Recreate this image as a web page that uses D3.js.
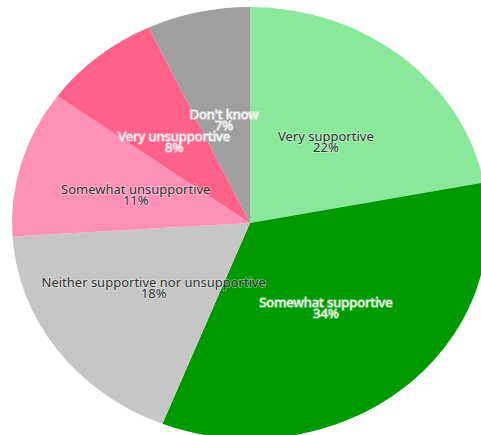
<!DOCTYPE html>
<html>
<head>
<meta charset="utf-8">
<script src="https://cdn.jsdelivr.net/npm/d3@7"></script>
<style>
  html, body { margin: 0; padding: 0; background: #ffffff; overflow: hidden; }
  svg { display: block; }
</style>
</head>
<body>
<svg id="chart" width="481" height="435"></svg>
<script>
// Survey responses, clockwise from 12 o'clock
const categories = [
  "Very supportive",
  "Somewhat supportive",
  "Neither supportive nor unsupportive",
  "Somewhat unsupportive",
  "Very unsupportive",
  "Don't know"
];
const shares = [22, 34, 18, 11, 8, 7];
const sliceColors = ["#8ae89b", "#009a00", "#c6c6c6", "#ff90b8", "#ff6189", "#9f9f9f"];
const labelColors = ["#333333", "#ffffff", "#333333", "#333333", "#ffffff", "#ffffff"];

const width = 481, height = 435;
const cx = 250, cy = 223;
const ry = 216, rx = 238;          // pie is drawn stretched horizontally
const sx = rx / ry;

const svg = d3.select("#chart");

const rows = categories.map((c, i) => ({ name: c, value: shares[i], fill: sliceColors[i], text: labelColors[i] }));

const pie = d3.pie().sort(null).value(d => d.value).startAngle(0).endAngle(2 * Math.PI);
const arcs = pie(rows);
const arc = d3.arc().innerRadius(0).outerRadius(ry);

const slices = svg.append("g")
  .attr("transform", `translate(${cx},${cy}) scale(${sx},1)`);

slices.selectAll("path")
  .data(arcs)
  .join("path")
  .attr("d", arc)
  .attr("fill", d => d.data.fill);

// Labels sit at half the radius along each slice's mid angle
const labels = svg.append("g")
  .attr("font-family", "'Noto Sans', 'Open Sans', sans-serif")
  .attr("font-size", 13)
  .attr("text-anchor", "middle");

const lab = labels.selectAll("text")
  .data(arcs)
  .join("text")
  .attr("transform", d => {
    const [x, y] = arc.centroid(d);
    return `translate(${cx + x * sx},${cy + y})`;
  })
  .attr("fill", d => d.data.text)
  .attr("stroke", "rgba(255,255,255,0.35)")
  .attr("stroke-width", 2)
  .attr("stroke-linejoin", "round")
  .attr("paint-order", "stroke");

lab.append("tspan")
  .attr("x", 0)
  .attr("y", 1)
  .text(d => d.data.name);

lab.append("tspan")
  .attr("x", 0)
  .attr("y", 12)
  .text(d => d.data.value + "%");
</script>
</body>
</html>
